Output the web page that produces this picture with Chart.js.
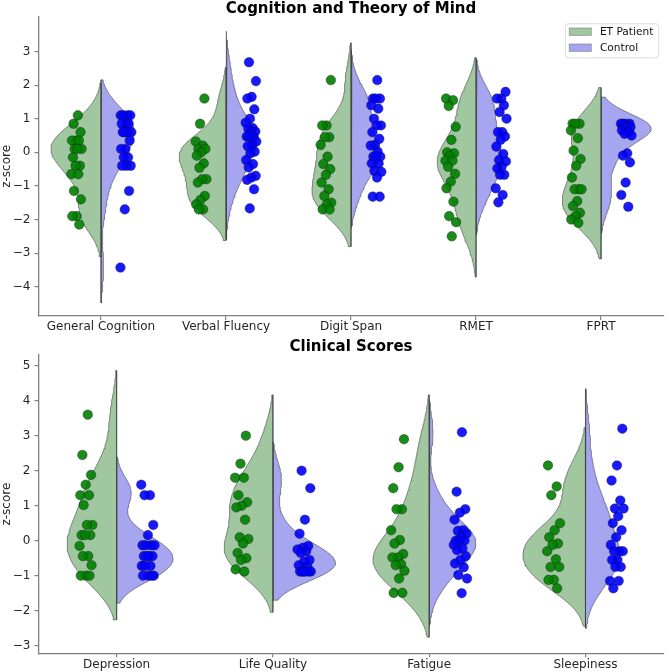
<!DOCTYPE html>
<html><head><meta charset="utf-8">
<script src="https://cdn.jsdelivr.net/npm/chart.js@4.4.0/dist/chart.umd.min.js"></script>
<style>
html,body{margin:0;padding:0;background:#fff;}
#wrap{position:relative;width:669px;height:672px;overflow:hidden;background:#fff;}
canvas{position:absolute;left:0;}
</style></head><body>
<div id="wrap">
<canvas id="topChart" width="669" height="336" style="top:0px"></canvas>
<canvas id="bottomChart" width="669" height="336" style="top:336px"></canvas>
</div>
<script>
// ---------- data ----------
const topTitle = 'Cognition and Theory of Mind';
const bottomTitle = 'Clinical Scores';
const topCategories = ['General Cognition', 'Verbal Fluency', 'Digit Span', 'RMET', 'FPRT'];
const bottomCategories = ['Depression', 'Life Quality', 'Fatigue', 'Sleepiness'];
const topYTicks = [-4, -3, -2, -1, 0, 1, 2, 3];
const bottomYTicks = [-3, -2, -1, 0, 1, 2, 3, 4, 5];
const legendLabels = ['ET Patient', 'Control'];

const patientGeneralCognition = [1.1, 0.85, 0.6, 0.35, 0.35, 0.35, 0.1, 0.1, 0.1, -0.15, -0.4, -0.4, -0.65, -0.65, -1.15, -1.4, -1.9, -1.9, -2.15];
const controlGeneralCognition = [1.1, 1.1, 1.1, 1.1, 0.85, 0.85, 0.85, 0.6, 0.6, 0.6, 0.6, 0.35, 0.1, 0.1, -0.15, -0.15, -0.4, -0.4, -0.4, -1.15, -1.7, -3.43];
const patientVerbalFluency = [1.6, 0.85, 0.32, 0.2, 0.1, 0.1, 0.0, -0.1, -0.33, -0.46, -0.8, -0.8, -0.9, -1.3, -1.42, -1.55, -1.7, -1.7];
const controlVerbalFluency = [2.68, 2.12, 1.65, 1.6, 1.28, 1.0, 0.88, 0.72, 0.7, 0.62, 0.6, 0.47, 0.47, 0.45, 0.32, 0.2, 0.18, 0.02, -0.03, -0.23, -0.35, -0.45, -0.7, -0.75, -0.82, -1.1, -1.67];
const patientDigitSpan = [2.15, 0.8, 0.8, 0.45, 0.45, 0.22, -0.13, -0.35, -0.5, -0.67, -0.9, -1.1, -1.3, -1.5, -1.55, -1.7, -1.7];
const controlDigitSpan = [2.15, 1.6, 1.6, 1.6, 1.4, 1.3, 1.0, 0.8, 0.8, 0.6, 0.4, 0.22, 0.2, 0.02, -0.13, -0.13, -0.13, -0.33, -0.33, -0.55, -0.58, -0.75, -1.32, -1.32];
const patientRMET = [1.6, 1.55, 1.38, 0.76, 0.37, 0.0, -0.03, -0.1, -0.25, -0.25, -0.43, -0.64, -0.87, -1.07, -1.47, -1.9, -2.08, -2.5];
const controlRMET = [1.8, 1.6, 1.6, 1.4, 1.2, 1.0, 0.6, 0.6, 0.47, 0.37, 0.17, -0.05, -0.23, -0.27, -0.43, -0.48, -0.67, -0.67, -1.07, -1.27, -1.49];
const patientFPRT = [0.85, 0.85, 0.85, 0.65, 0.42, 0.05, -0.2, -0.4, -0.75, -1.1, -1.1, -1.1, -1.45, -1.6, -1.8, -1.9, -2.0, -2.1];
const controlFPRT = [0.85, 0.85, 0.85, 0.85, 0.8, 0.75, 0.75, 0.7, 0.65, 0.6, 0.55, 0.5, -0.03, -0.1, -0.3, -0.9, -1.27, -1.62];

const patientDepression = [3.6, 2.45, 1.88, 1.6, 1.3, 1.3, 1.02, 0.45, 0.45, 0.16, 0.16, 0.16, -0.15, -0.44, -0.44, -0.7, -1.0, -1.0, -1.0];
const controlDepression = [1.6, 1.3, 1.3, 0.45, 0.16, -0.13, -0.13, -0.13, -0.13, -0.44, -0.44, -0.44, -0.44, -0.72, -0.72, -0.72, -1.0, -1.0, -1.0, -1.0];
const patientLifeQuality = [3.0, 2.2, 1.8, 1.8, 1.3, 1.1, 1.0, 0.95, 0.6, 0.1, 0.05, -0.08, -0.35, -0.5, -0.55, -0.82, -0.88];
const controlLifeQuality = [2.0, 1.5, 0.6, 0.2, -0.15, -0.2, -0.25, -0.3, -0.35, -0.55, -0.6, -0.7, -0.75, -0.88, -0.88, -0.88, -0.88, -0.88, -0.88];
const patientFatigue = [2.9, 2.1, 1.5, 0.9, 0.9, 0.3, 0.02, -0.08, -0.38, -0.48, -0.48, -0.67, -0.7, -0.86, -1.08, -1.49, -1.49];
const controlFatigue = [3.1, 1.4, 0.9, 0.8, 0.6, 0.3, 0.28, 0.2, 0.1, 0.0, 0.0, 0.0, -0.12, -0.22, -0.27, -0.44, -0.55, -0.65, -0.76, -0.98, -1.08, -1.5];
const patientSleepiness = [2.15, 1.55, 1.3, 0.5, 0.3, 0.1, -0.08, -0.12, -0.3, -0.53, -0.75, -0.75, -1.12, -1.12, -1.36];
const controlSleepiness = [3.2, 2.15, 1.72, 1.15, 0.92, 0.92, 0.7, 0.5, 0.3, 0.1, -0.12, -0.3, -0.3, -0.3, -0.55, -0.55, -0.75, -0.75, -1.15, -1.15, -1.36];

const topPatientSeries = [patientGeneralCognition, patientVerbalFluency, patientDigitSpan, patientRMET, patientFPRT];
const topControlSeries = [controlGeneralCognition, controlVerbalFluency, controlDigitSpan, controlRMET, controlFPRT];
const bottomPatientSeries = [patientDepression, patientLifeQuality, patientFatigue, patientSleepiness];
const bottomControlSeries = [controlDepression, controlLifeQuality, controlFatigue, controlSleepiness];

// ---------- styles ----------
const FONT = "'DejaVu Sans', 'Liberation Sans', sans-serif";
const patientFill = 'rgb(160,199,160)';
const controlFill = 'rgb(166,166,240)';
const patientPoint = 'rgba(0,128,0,0.9)';
const controlPoint = 'rgba(0,0,255,0.9)';
const violinEdge = 'rgba(60,60,60,0.55)';
const axisColor = '#808080';
const textColor = '#262626';
const BW_ADJUST = 0.9;
const HALF_WIDTH = 0.4;
const DODGE = 0.2;
const JITTER = 0.045;

Chart.defaults.font.family = FONT;
Chart.defaults.color = textColor;

// gaussian KDE, Scott bandwidth, cut = 2 bandwidths
function kde(values) {
  const n = values.length;
  const mean = values.reduce((a, b) => a + b, 0) / n;
  const sd = Math.sqrt(values.reduce((a, b) => a + (b - mean) * (b - mean), 0) / (n - 1));
  const bw = sd * Math.pow(n, -0.2) * BW_ADJUST;
  const lo = Math.min(...values) - 2 * bw, hi = Math.max(...values) + 2 * bw;
  const ys = [], ds = [];
  for (let k = 0; k < 100; k++) {
    const y = lo + (hi - lo) * k / 99;
    let s = 0;
    for (const v of values) { const z = (y - v) / bw; s += Math.exp(-0.5 * z * z); }
    ys.push(y); ds.push(s / (n * bw * Math.sqrt(2 * Math.PI)));
  }
  return { ys, ds };
}

function jitter(i, seed) {
  const f = ((i + 1) * 0.6180339887 + seed) % 1;
  return (f - 0.5) * 2 * JITTER;
}

function violinDataset(center, side, kd, maxD, fill) {
  const pts = [{ x: center, y: kd.ys[0] }];
  for (let k = 0; k < kd.ys.length; k++) {
    pts.push({ x: center + side * HALF_WIDTH * kd.ds[k] / maxD, y: kd.ys[k] });
  }
  pts.push({ x: center, y: kd.ys[kd.ys.length - 1] });
  pts.push({ x: center, y: kd.ys[0] });
  return {
    type: 'line', data: pts, showLine: true, fill: 'shape', backgroundColor: fill,
    borderColor: violinEdge, borderWidth: 1, pointRadius: 0, pointHoverRadius: 0,
    tension: 0, order: 2, clip: false
  };
}

function pointDataset(center, side, values, color, seed) {
  return {
    type: 'scatter',
    data: values.map((v, i) => ({ x: center + side * DODGE + jitter(i, seed), y: v })),
    backgroundColor: color, borderColor: 'rgba(20,20,20,0.6)', borderWidth: 0.6,
    pointRadius: 4.8, pointHoverRadius: 4.8, order: 0
  };
}

function buildDatasets(patientSeries, controlSeries) {
  const pk = patientSeries.map(kde), ck = controlSeries.map(kde);
  const pMax = Math.max(...pk.map(k => Math.max(...k.ds)));
  const cMax = Math.max(...ck.map(k => Math.max(...k.ds)));
  const ds = [];
  patientSeries.forEach((s, i) => {
    ds.push(violinDataset(i, -1, pk[i], pMax, patientFill));
    ds.push(violinDataset(i, 1, ck[i], cMax, controlFill));
  });
  patientSeries.forEach((s, i) => {
    ds.push(pointDataset(i, -1, s, patientPoint, 0.13 * i + 0.05));
    ds.push(pointDataset(i, 1, controlSeries[i], controlPoint, 0.29 * i + 0.41));
  });
  return ds;
}

const fmt = v => (v < 0 ? '\u2212' + Math.abs(v) : String(v));

const titlePlugin = {
  id: 'axTitle',
  afterDraw(chart, args, opts) {
    const { ctx, chartArea } = chart;
    ctx.save();
    ctx.font = 'bold 15px ' + FONT;
    ctx.fillStyle = '#000';
    ctx.textAlign = 'center';
    ctx.textBaseline = 'middle';
    ctx.fillText(opts.text, (chartArea.left + chartArea.right) / 2, opts.y);
    ctx.restore();
  }
};

const legendPlugin = {
  id: 'innerLegend',
  afterDraw(chart, args, opts) {
    if (!opts.show) return;
    const { ctx, chartArea } = chart;
    const right = chartArea.right - 5.3, top = chartArea.top + 6.6;
    const w = 93.4, h = 34;
    const left = right - w;
    ctx.save();
    ctx.beginPath();
    ctx.roundRect(left + 0.5, top + 0.5, w, h, 3);
    ctx.fillStyle = 'rgba(255,255,255,0.8)';
    ctx.fill();
    ctx.strokeStyle = '#dcdcdc';
    ctx.lineWidth = 1;
    ctx.stroke();
    const fills = [patientFill, controlFill];
    legendLabels.forEach((lab, i) => {
      const cy = top + 8.4 + i * 16;
      ctx.fillStyle = fills[i];
      ctx.fillRect(left + 4.4, cy - 3.7, 22, 7.4);
      ctx.strokeStyle = 'rgba(90,90,90,0.45)';
      ctx.strokeRect(left + 4.4, cy - 3.7, 22, 7.4);
      ctx.fillStyle = '#111';
      ctx.font = '10.6px ' + FONT;
      ctx.textAlign = 'left';
      ctx.textBaseline = 'middle';
      ctx.fillText(lab, left + 35, cy + 0.5);
    });
    ctx.restore();
  }
};

function makeChart(canvasId, cats, yTicks, yMin, yMax, patientSeries, controlSeries, title, titleY, padTop, xAxisH, showLegend) {
  return new Chart(document.getElementById(canvasId), {
    type: 'scatter',
    data: { datasets: buildDatasets(patientSeries, controlSeries) },
    plugins: [titlePlugin, legendPlugin],
    options: {
      responsive: false, animation: false, devicePixelRatio: 1,
      layout: { padding: { left: 0, right: 2, top: padTop, bottom: 0 } },
      plugins: {
        legend: { display: false }, tooltip: { enabled: false }, title: { display: false },
        axTitle: { text: title, y: titleY },
        innerLegend: { show: showLegend }
      },
      scales: {
        x: {
          type: 'linear', min: -0.5, max: cats.length - 0.5,
          afterBuildTicks: a => { a.ticks = cats.map((c, i) => ({ value: i })); },
          afterFit: a => { a.height = xAxisH; },
          ticks: { callback: (v, i) => cats[i], font: { size: 12 }, color: textColor, padding: 0, maxRotation: 0, autoSkip: false },
          grid: { display: true, drawOnChartArea: false, drawTicks: true, tickLength: 4, color: axisColor, lineWidth: 1.2 },
          border: { display: true, color: axisColor, width: 1.3 }
        },
        y: {
          type: 'linear', min: yMin, max: yMax,
          afterBuildTicks: a => { a.ticks = yTicks.map(v => ({ value: v })); },
          afterFit: a => { a.width = 38.5; },
          ticks: { callback: v => fmt(v), font: { size: 12 }, color: textColor, padding: 4 },
          grid: { display: true, drawOnChartArea: false, drawTicks: true, tickLength: 4, color: axisColor, lineWidth: 1.2 },
          border: { display: true, color: axisColor, width: 1.3 },
          title: { display: true, text: 'z-score', font: { size: 12 }, color: textColor, padding: { top: 0, bottom: 0 } }
        }
      }
    }
  });
}

makeChart('topChart', topCategories, topYTicks, -4.872, 4.036, topPatientSeries, topControlSeries, topTitle, 9, 16.7, 20, true);
makeChart('bottomChart', bottomCategories, bottomYTicks, -3.217, 5.306, bottomPatientSeries, bottomControlSeries, bottomTitle, 10.7, 19, 18.7, false);
</script>
</body></html>
